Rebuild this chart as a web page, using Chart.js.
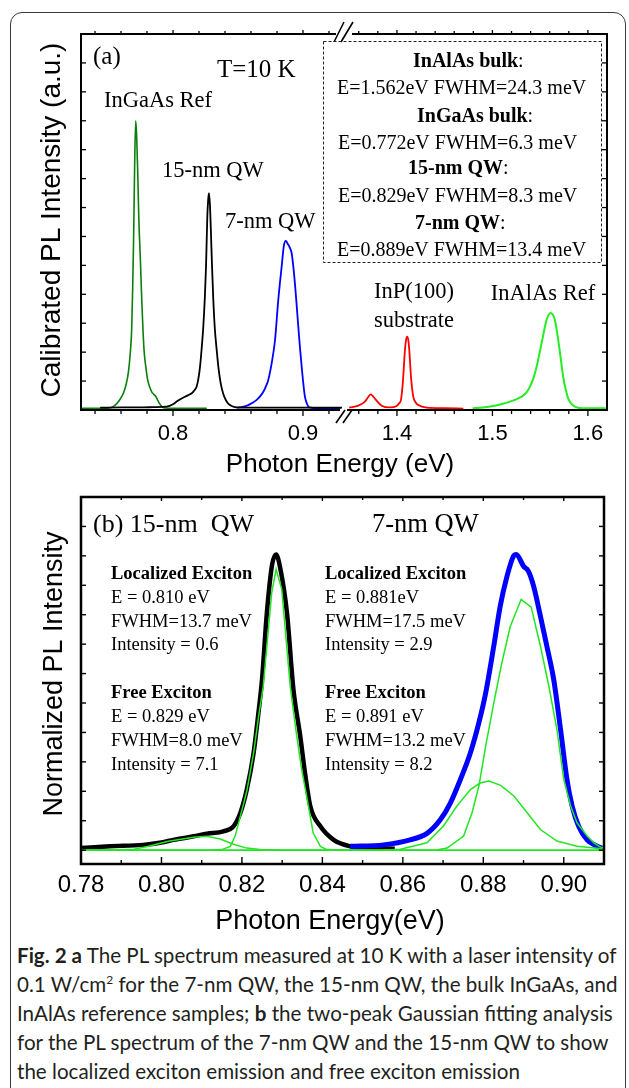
<!DOCTYPE html>
<html>
<head>
<meta charset="utf-8">
<script src="https://cdn.jsdelivr.net/npm/chart.js@4.4.1/dist/chart.umd.min.js"></script>
<style>
  html, body { margin: 0; padding: 0; background: #fff; }
  body { width: 629px; height: 1088px; position: relative; overflow: hidden; }
  #frame { position: absolute; left: 10px; top: 12px; width: 616px; height: 1100px;
           border: 1.5px solid #3a3a3a; border-radius: 12px; box-sizing: border-box; }
  #pa { position: absolute; left: 0; top: 0; }
  #pb { position: absolute; left: 0; top: 480px; }
  #caption { position: absolute; left: 17px; top: 941px; font-family: Lato, "Open Sans", sans-serif;
             font-size: 20.6px; line-height: 29px; color: #231f20; white-space: nowrap; }
  #caption sup { font-size: 12px; line-height: 0; vertical-align: 8px; }
</style>
</head>
<body>
<div id="frame"></div>
<canvas id="pa" width="629" height="480"></canvas>
<canvas id="pb" width="629" height="460"></canvas>
<div id="caption">
  <b>Fig. 2 a</b> The PL spectrum measured at 10 K with a laser intensity of<br>
  0.1 W/cm<sup>2</sup> for the 7-nm QW, the 15-nm QW, the bulk InGaAs, and<br>
  InAlAs reference samples; <b>b</b> the two-peak Gaussian fitting analysis<br>
  for the PL spectrum of the 7-nm QW and the 15-nm QW to show<br>
  the localized exciton emission and free exciton emission
</div>
<script>
// ---------- Panel (a): calibrated PL spectra at T = 10 K ----------
// photon energy (eV) / intensity (a.u.)
const ingaasRefE = [0.729, 0.745, 0.752, 0.7555, 0.7585, 0.7618, 0.764, 0.7656, 0.767, 0.7682, 0.769, 0.7697, 0.7705, 0.7713, 0.7720, 0.7728, 0.7737, 0.7748, 0.7760, 0.7777, 0.7792, 0.7805, 0.7820, 0.7836, 0.7852, 0.7869, 0.7883, 0.7895, 0.7915, 0.7938, 0.800, 0.815, 0.826];
const ingaasRefI = [0.06, 0.06, 0.08, 0.17, 0.32, 0.58, 0.9, 1.28, 1.9, 2.8, 4.3, 6.0, 8.5, 10.0, 9.5, 8.3, 6.6, 5.3, 3.75, 2.08, 1.45, 1.04, 0.8, 0.63, 0.54, 0.46, 0.33, 0.23, 0.12, 0.07, 0.06, 0.06, 0.06];

const qw15E = [0.744, 0.76, 0.775, 0.785, 0.7952, 0.800, 0.8028, 0.806, 0.8092, 0.812, 0.8144, 0.8165, 0.8182, 0.8196, 0.8208, 0.822, 0.8233, 0.8245, 0.8254, 0.8264, 0.8271, 0.8277, 0.8284, 0.8292, 0.8300, 0.831, 0.8322, 0.8336, 0.835, 0.8367, 0.8384, 0.84, 0.8418, 0.8438, 0.846, 0.849, 0.86, 0.88, 0.90, 0.93];
const qw15I = [0.08, 0.09, 0.09, 0.1, 0.12, 0.2, 0.29, 0.38, 0.46, 0.52, 0.58, 0.68, 0.81, 1.1, 1.5, 2.1, 2.88, 3.9, 4.96, 6.69, 7.3, 7.5, 7.1, 6.11, 5.0, 3.81, 2.8, 2.08, 1.45, 0.92, 0.6, 0.4, 0.26, 0.17, 0.12, 0.09, 0.08, 0.08, 0.08, 0.08];

const qw7E = [0.849, 0.8535, 0.8579, 0.8612, 0.8644, 0.867, 0.8695, 0.8715, 0.8733, 0.8759, 0.8785, 0.881, 0.8836, 0.8854, 0.8869, 0.8882, 0.8895, 0.8913, 0.8926, 0.8938, 0.8951, 0.8964, 0.8977, 0.899, 0.9003, 0.9015, 0.9028, 0.9041, 0.906, 0.908, 0.915, 0.929];
const qw7I = [0.08, 0.11, 0.17, 0.25, 0.35, 0.47, 0.63, 0.82, 1.04, 1.61, 2.42, 3.81, 4.96, 5.71, 5.85, 5.75, 5.65, 5.42, 4.95, 4.38, 3.65, 2.88, 2.15, 1.5, 0.9, 0.46, 0.25, 0.12, 0.08, 0.07, 0.07, 0.07];

const inpSubE = [1.35, 1.3595, 1.3665, 1.3700, 1.3725, 1.375, 1.378, 1.384, 1.3927, 1.3997, 1.4025, 1.4042, 1.4055, 1.4066, 1.4084, 1.4097, 1.4108, 1.412, 1.4129, 1.4147, 1.4171, 1.4195, 1.4223, 1.4311, 1.45, 1.4695];
const inpSubI = [0.08, 0.15, 0.29, 0.45, 0.54, 0.47, 0.35, 0.15, 0.09, 0.14, 0.24, 0.35, 0.7, 1.15, 2.08, 2.45, 2.54, 2.4, 2.08, 1.15, 0.46, 0.27, 0.17, 0.08, 0.06, 0.05];

const inalasRefE = [1.4793, 1.49, 1.5009, 1.51, 1.5183, 1.525, 1.5306, 1.5355, 1.5393, 1.543, 1.5463, 1.5515, 1.5567, 1.5609, 1.5654, 1.5699, 1.5741, 1.5768, 1.5793, 1.5825, 1.5864, 1.595, 1.6188];
const inalasRefI = [0.06, 0.09, 0.14, 0.21, 0.29, 0.37, 0.46, 0.6, 0.81, 1.1, 1.5, 2.31, 3.11, 3.35, 3.11, 2.19, 1.15, 0.7, 0.4, 0.22, 0.12, 0.06, 0.06];

const ticksA1 = [0.8, 0.9];        // low-energy segment
const ticksA2 = [1.4, 1.5, 1.6];   // high-energy segment

// ---------- Panel (b): normalized spectra with two-peak Gaussian fits ----------
const qw15bE = [0.78, 0.7872, 0.7955, 0.800, 0.803, 0.808, 0.8113, 0.8154, 0.8179, 0.8196, 0.8212, 0.8229, 0.8241, 0.825, 0.8262, 0.8275, 0.8285, 0.8295, 0.8312, 0.8328, 0.8345, 0.8357, 0.837, 0.8395, 0.8428, 0.8469, 0.8511, 0.858];
const qw15bI = [0.07, 0.13, 0.18, 0.26, 0.35, 0.47, 0.56, 0.64, 0.81, 1.26, 2.05, 3.3, 4.66, 5.8, 8.06, 9.7, 10.05, 9.6, 8.06, 5.46, 3.87, 2.6, 1.49, 0.81, 0.35, 0.13, 0.07, 0.05];

const fit15LocE = [0.78, 0.79, 0.7932, 0.7968, 0.8017, 0.808, 0.8113, 0.8146, 0.8179, 0.8212, 0.8245, 0.83, 0.91];
const fit15LocI = [0, 0.01, 0.03, 0.13, 0.3, 0.44, 0.47, 0.38, 0.2, 0.07, 0.02, 0, 0];

const fit15FreeE = [0.78, 0.812, 0.815, 0.8171, 0.8183, 0.8196, 0.8212, 0.8229, 0.8241, 0.8253, 0.8274, 0.8285, 0.8299, 0.832, 0.8335, 0.8349, 0.8361, 0.8377, 0.8395, 0.8411, 0.845, 0.91];
const fit15FreeI = [0, 0, 0.02, 0.13, 0.47, 1.15, 2.0, 3.3, 4.5, 5.57, 8.74, 9.54, 8.86, 5.57, 4.0, 2.7, 1.83, 0.59, 0.13, 0.02, 0, 0];

const qw7bE = [0.8469, 0.8552, 0.8618, 0.866, 0.8693, 0.8718, 0.8743, 0.8768, 0.8789, 0.8806, 0.8826, 0.8842, 0.8859, 0.8875, 0.8882, 0.89, 0.8912, 0.8925, 0.8942, 0.8958, 0.8975, 0.8992, 0.9008, 0.9021, 0.9037, 0.9058, 0.9079, 0.9095];
const qw7bI = [0.13, 0.18, 0.35, 0.57, 1.03, 1.6, 2.4, 3.31, 4.33, 5.35, 6.93, 8.29, 9.31, 9.99, 10.05, 9.65, 9.48, 8.97, 7.95, 6.93, 5.8, 4.1, 2.4, 1.49, 0.81, 0.35, 0.16, 0.07];

const fit7LocE = [0.78, 0.855, 0.8594, 0.866, 0.8701, 0.8734, 0.8768, 0.8792, 0.8814, 0.8843, 0.8876, 0.8909, 0.8942, 0.8983, 0.9033, 0.9095, 0.91];
const fit7LocI = [0, 0, 0.03, 0.25, 0.82, 1.49, 2.06, 2.28, 2.35, 2.2, 1.84, 1.27, 0.7, 0.31, 0.13, 0.05, 0.05];

const fit7FreeE = [0.78, 0.868, 0.871, 0.8751, 0.8772, 0.8789, 0.8806, 0.8826, 0.8845, 0.8867, 0.8894, 0.8919, 0.8942, 0.8963, 0.8983, 0.9, 0.9017, 0.9033, 0.9058, 0.9075, 0.9095, 0.91];
const fit7FreeI = [0, 0, 0.07, 0.48, 1.27, 2.18, 3.54, 5.0, 6.3, 7.6, 8.52, 8.26, 6.93, 5.57, 4.1, 2.4, 1.5, 0.93, 0.48, 0.25, 0.07, 0.05];

const ticksB = [0.78, 0.80, 0.82, 0.84, 0.86, 0.88, 0.90];

// ---------- helpers ----------
const SERIF = '"Liberation Serif", "Times New Roman", serif';
const SANS = '"Liberation Sans", Arial, sans-serif';
Chart.defaults.font.family = SANS;
Chart.defaults.color = '#000';

const pts = (xs, ys) => xs.map((x, i) => ({ x, y: ys[i] }));

function seg(ctx, x1, y1, x2, y2) {
  ctx.beginPath(); ctx.moveTo(x1, y1); ctx.lineTo(x2, y2); ctx.stroke();
}
function valuesBetween(min, max, step) {
  const out = [];
  for (let k = Math.ceil(min / step - 1e-9); k * step <= max + 1e-9; k++) out.push(+(k * step).toFixed(6));
  return out;
}
function isMultiple(v, step) {
  const r = v / step;
  return Math.abs(r - Math.round(r)) < 1e-6;
}
function text(ctx, s, x, y, font, align) {
  ctx.font = font; ctx.textAlign = align || 'left'; ctx.textBaseline = 'alphabetic';
  ctx.fillStyle = '#000'; ctx.fillText(s, x, y);
}
// one line made of bold / regular runs
function rich(ctx, parts, x, y, size) {
  let cx = x;
  ctx.textAlign = 'left'; ctx.textBaseline = 'alphabetic'; ctx.fillStyle = '#000';
  for (const [s, bold] of parts) {
    ctx.font = (bold ? 'bold ' : '') + size + 'px ' + SERIF;
    ctx.fillText(s, cx, y);
    cx += ctx.measureText(s).width;
  }
}
function vtitle(ctx, s, baseX, centerY, font) {
  ctx.save();
  ctx.translate(baseX, centerY); ctx.rotate(-Math.PI / 2);
  text(ctx, s, 0, 0, font, 'center');
  ctx.restore();
}

// inward / outward tick marks on all four sides
function drawTicks(chart, cfg) {
  const { ctx, chartArea: { left, right, top, bottom } } = chart;
  ctx.save();
  ctx.strokeStyle = '#000'; ctx.lineWidth = cfg.tickWidth; ctx.lineCap = 'butt';
  for (const id of cfg.xIds) {
    const s = chart.scales[id];
    for (const v of valuesBetween(s.min, s.max, cfg.minorX)) {
      const px = s.getPixelForValue(v);
      if (px < left + 3 || px > right - 3 || px < s.left + 1 || px > s.right - 1) continue;
      const major = isMultiple(v, cfg.majorX);
      seg(ctx, px, bottom, px, bottom + cfg.bottomDir * (major ? cfg.majorLen : cfg.minorLen));
      seg(ctx, px, top, px, top + cfg.topDir * (major ? cfg.topMajor : cfg.topMinor));
    }
  }
  const ys = chart.scales.y;
  for (const v of valuesBetween(cfg.yFrom, ys.max, cfg.yStep)) {
    const py = ys.getPixelForValue(v);
    if (py < top + 3 || py > bottom - 3) continue;
    seg(ctx, left, py, left + cfg.yLen, py);
    seg(ctx, right, py, right - cfg.yLen, py);
  }
  ctx.restore();
}

// ---------- panel (a) decorations ----------
const panelAPlugin = {
  id: 'panelA',
  afterDraw(chart) {
    const { ctx, chartArea: { left, right, top, bottom } } = chart;
    drawTicks(chart, { xIds: ['x1', 'x2'], minorX: 0.02, majorX: 0.1, bottomDir: 1, majorLen: 6, minorLen: 4,
                       topDir: -1, topMajor: 4, topMinor: 3, yFrom: 1, yStep: 1, yLen: 5, tickWidth: 1.3 });
    const xb = chart.scales.x1.right;
    ctx.save();
    ctx.strokeStyle = '#000'; ctx.lineWidth = 2; ctx.lineCap = 'square';
    seg(ctx, left, top, left, bottom);
    seg(ctx, right, top, right, bottom);
    seg(ctx, left, bottom, xb - 4, bottom);
    seg(ctx, xb + 5, bottom, right, bottom);
    seg(ctx, left, top, xb - 8, top);
    seg(ctx, xb + 10, top, right, top);
    // axis break marks
    ctx.lineWidth = 1.6; ctx.lineCap = 'butt';
    seg(ctx, xb - 7, bottom + 13, xb + 2, bottom);
    seg(ctx, xb, bottom + 13, xb + 9, bottom);
    seg(ctx, xb - 9, top + 8, xb + 1, top - 12);
    seg(ctx, xb - 2, top + 8, xb + 10, top - 12);
    // summary box
    ctx.lineWidth = 1; ctx.setLineDash([3, 2]); ctx.strokeStyle = '#222';
    ctx.strokeRect(323.5, 41.5, 278, 221);
    ctx.setLineDash([]);
    ctx.restore();

    ctx.save();
    text(ctx, '(a)', 93, 64, '25px ' + SERIF);
    text(ctx, 'T=10 K', 217, 77, '25px ' + SERIF);
    text(ctx, 'InGaAs Ref', 104, 107, '22.5px ' + SERIF);
    text(ctx, '15-nm QW', 162, 177, '22.5px ' + SERIF);
    text(ctx, '7-nm QW', 225, 228, '22.5px ' + SERIF);
    text(ctx, 'InP(100)', 414, 298, '22.5px ' + SERIF, 'center');
    text(ctx, 'substrate', 414, 327, '22.5px ' + SERIF, 'center');
    text(ctx, 'InAlAs Ref', 543, 300, '22.5px ' + SERIF, 'center');

    rich(ctx, [['InAlAs bulk', true], [':', false]], 413, 67, 20);
    rich(ctx, [['E=1.562eV FWHM=24.3 meV', false]], 337, 94, 20);
    rich(ctx, [['InGaAs bulk', true], [':', false]], 417, 122, 20);
    rich(ctx, [['E=0.772eV FWHM=6.3 meV', false]], 338, 149, 20);
    rich(ctx, [['15-nm QW', true], [':', false]], 408, 174, 20);
    rich(ctx, [['E=0.829eV FWHM=8.3 meV', false]], 338, 202, 20);
    rich(ctx, [['7-nm QW', true], [':', false]], 415, 229, 20);
    rich(ctx, [['E=0.889eV FWHM=13.4 meV', false]], 337, 256, 20);

    text(ctx, 'Photon Energy (eV)', 340, 472, '26px ' + SANS, 'center');
    vtitle(ctx, 'Calibrated PL Intensity (a.u.)', 60, 220, '28px ' + SANS);
    ctx.restore();
  }
};

// ---------- panel (b) decorations ----------
const panelBPlugin = {
  id: 'panelB',
  afterDraw(chart) {
    const { ctx, chartArea: { left, right, top, bottom } } = chart;
    drawTicks(chart, { xIds: ['x'], minorX: 0.01, majorX: 0.02, bottomDir: -1, majorLen: 7, minorLen: 4,
                       topDir: 1, topMajor: 4, topMinor: 3, yFrom: 0, yStep: 1, yLen: 5, tickWidth: 1.4 });
    ctx.save();
    ctx.strokeStyle = '#000'; ctx.lineWidth = 2.5;
    ctx.strokeRect(left, top, right - left, bottom - top);
    ctx.restore();

    ctx.save();
    text(ctx, '(b) 15-nm  QW', 93, 52, '26px ' + SERIF);
    text(ctx, '7-nm QW', 372, 52, '26.5px ' + SERIF);
    const cols = [
      [111, ['E = 0.810 eV', 'FWHM=13.7 meV', 'Intensity = 0.6'], ['E = 0.829 eV', 'FWHM=8.0 meV', 'Intensity = 7.1']],
      [325, ['E = 0.881eV', 'FWHM=17.5 meV', 'Intensity = 2.9'], ['E = 0.891 eV', 'FWHM=13.2 meV', 'Intensity = 8.2']]
    ];
    for (const [x, loc, free] of cols) {
      rich(ctx, [['Localized Exciton', true]], x, 99, 18.5);
      loc.forEach((s, i) => rich(ctx, [[s, false]], x, 123 + i * 23.7, 18.5));
      rich(ctx, [['Free Exciton', true]], x, 218, 18.5);
      free.forEach((s, i) => rich(ctx, [[s, false]], x, 242 + i * 24, 18.5));
    }
    text(ctx, 'Photon Energy(eV)', 330, 449, '27px ' + SANS, 'center');
    vtitle(ctx, 'Normalized PL Intensity', 62, 194, '27px ' + SANS);
    ctx.restore();
  }
};

const hidden = { grid: { display: false, drawTicks: false }, border: { display: false } };

// ---------- chart (a) ----------
new Chart(document.getElementById('pa'), {
  type: 'line',
  data: {
    datasets: [
      { label: 'InGaAs Ref', data: pts(ingaasRefE, ingaasRefI), xAxisID: 'x1', borderColor: '#0b7f0b', borderWidth: 1.6, order: 3 },
      { label: '15-nm QW', data: pts(qw15E, qw15I), xAxisID: 'x1', borderColor: '#000000', borderWidth: 1.8, order: 1 },
      { label: '7-nm QW', data: pts(qw7E, qw7I), xAxisID: 'x1', borderColor: '#0000ff', borderWidth: 1.8, order: 2 },
      { label: 'InP(100) substrate', data: pts(inpSubE, inpSubI), xAxisID: 'x2', borderColor: '#ff0000', borderWidth: 1.8, order: 1 },
      { label: 'InAlAs Ref', data: pts(inalasRefE, inalasRefI), xAxisID: 'x2', borderColor: '#22ee22', borderWidth: 2, order: 1 }
    ]
  },
  options: {
    responsive: false, animation: false, events: [],
    layout: { padding: { top: 34, right: 22, left: 0, bottom: 0 } },
    plugins: { legend: { display: false }, tooltip: { enabled: false } },
    elements: { point: { radius: 0 }, line: { tension: 0, cubicInterpolationMode: 'monotone', fill: false } },
    scales: {
      x1: {
        type: 'linear', position: 'bottom', stack: 'energy', stackWeight: 262, min: 0.7292, max: 0.9308, ...hidden,
        ticks: { font: { size: 22 }, padding: 11, maxRotation: 0, autoSkip: false, callback: v => v.toFixed(1) },
        afterBuildTicks: s => { s.ticks = ticksA1.map(v => ({ value: v })); },
        afterFit: s => { s.height = 70; }
      },
      x2: {
        type: 'linear', position: 'bottom', stack: 'energy', stackWeight: 264, min: 1.3435, max: 1.62, ...hidden,
        ticks: { font: { size: 22 }, padding: 11, maxRotation: 0, autoSkip: false, callback: v => v.toFixed(1) },
        afterBuildTicks: s => { s.ticks = ticksA2.map(v => ({ value: v })); },
        afterFit: s => { s.height = 70; }
      },
      y: {
        type: 'linear', position: 'left', min: 0, max: 13, ...hidden,
        ticks: { display: false },
        afterFit: s => { s.width = 81; }
      }
    }
  },
  plugins: [panelAPlugin]
});

// ---------- chart (b) ----------
const fitStyle = { borderColor: '#22e622', borderWidth: 1.5, cubicInterpolationMode: 'default', tension: 0, order: 0 };
new Chart(document.getElementById('pb'), {
  type: 'line',
  data: {
    datasets: [
      { label: '15-nm QW', data: pts(qw15bE, qw15bI), borderColor: '#000000', borderWidth: 4.5, order: 2 },
      { label: '7-nm QW', data: pts(qw7bE, qw7bI), borderColor: '#0000ff', borderWidth: 5, order: 1 },
      { label: '15-nm localized exciton', data: pts(fit15LocE, fit15LocI), ...fitStyle },
      { label: '15-nm free exciton', data: pts(fit15FreeE, fit15FreeI), ...fitStyle },
      { label: '7-nm localized exciton', data: pts(fit7LocE, fit7LocI), ...fitStyle },
      { label: '7-nm free exciton', data: pts(fit7FreeE, fit7FreeI), ...fitStyle }
    ]
  },
  options: {
    responsive: false, animation: false, events: [],
    layout: { padding: { top: 17, right: 25, left: 0, bottom: 0 } },
    plugins: { legend: { display: false }, tooltip: { enabled: false } },
    elements: { point: { radius: 0 }, line: { tension: 0, cubicInterpolationMode: 'monotone', fill: false } },
    scales: {
      x: {
        type: 'linear', position: 'bottom', min: 0.78, max: 0.91, ...hidden,
        ticks: { font: { size: 24 }, padding: 7, maxRotation: 0, autoSkip: false, callback: v => v.toFixed(2) },
        afterBuildTicks: s => { s.ticks = ticksB.map(v => ({ value: v })); },
        afterFit: s => { s.height = 76; }
      },
      y: {
        type: 'linear', position: 'left', min: -0.47, max: 12, ...hidden,
        ticks: { display: false },
        afterFit: s => { s.width = 81; }
      }
    }
  },
  plugins: [panelBPlugin]
});
</script>
</body>
</html>
